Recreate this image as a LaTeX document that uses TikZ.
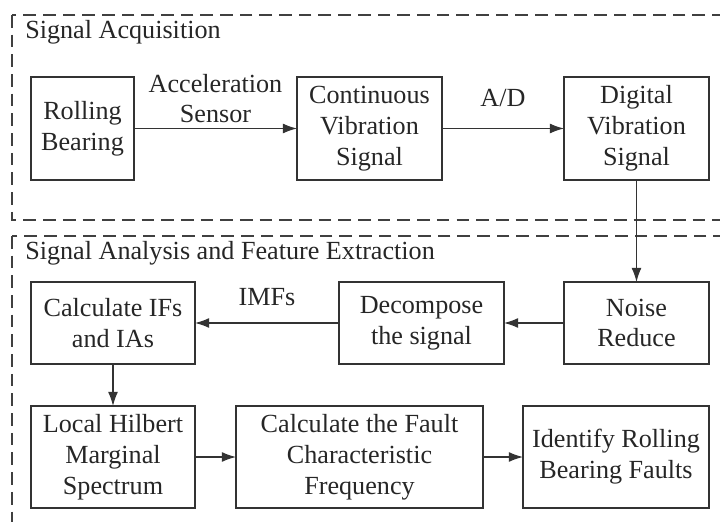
\documentclass[tikz,border=0pt]{standalone}
\usepackage{fontspec}
\setmainfont{Liberation Serif}
\usetikzlibrary{arrows.meta, positioning}

\begin{document}
\begin{tikzpicture}[font=\fontsize{18.6}{22}\selectfont,
    blk/.style={draw=black!80, line width=0.8pt, rectangle, align=center, inner sep=0pt, outer sep=0pt, text=black!85},
    flow/.style={draw=black!80, line width=0.8pt, -{Latex[length=10pt,width=7pt]}},
    region/.style={draw=black!75, line width=0.8pt, dash pattern=on 9pt off 5pt},
    lbl/.style={text=black!85, align=center}]
    \clip (0,0) rectangle (18,-13.05);
    % 两个虚线分区
    \draw[region] (0.3,-0.375) rectangle (18.6,-5.5);
    \draw[region] (0.3,-5.9) rectangle (18.6,-13.5);
    \node[lbl, anchor=base west, inner sep=0pt] (T1) at (0.625,-0.975) {Signal Acquisition};
    \node[lbl, anchor=base west, inner sep=0pt] (T2) at (0.625,-6.475) {Signal Analysis and Feature Extraction};
    % 第一行:信号采集
    \node[blk, minimum width=2.575cm, minimum height=2.575cm] (bearing) at (2.0625,-3.2125) {Rolling\\Bearing};
    \node[blk, minimum width=3.625cm, minimum height=2.575cm] (cont) at (9.2375,-3.2125) {Continuous\\Vibration\\Signal};
    \node[blk, minimum width=3.625cm, minimum height=2.575cm] (digital) at (15.9125,-3.2125) {Digital\\Vibration\\Signal};
    % 第二行
    \node[blk, minimum width=4.1cm, minimum height=2.05cm] (calcIF) at (2.825,-8.075) {Calculate IFs\\and IAs};
    \node[blk, minimum width=4.125cm, minimum height=2.05cm] (decomp) at (10.5375,-8.075) {Decompose\\the signal};
    \node[blk, minimum width=3.625cm, minimum height=2.05cm] (noise) at (15.9125,-8.075) {Noise\\Reduce};
    % 第三行
    \node[blk, minimum width=4.1cm, minimum height=2.55cm] (hilbert) at (2.825,-11.425) {Local Hilbert\\Marginal\\Spectrum};
    \node[blk, minimum width=6.175cm, minimum height=2.55cm] (fault) at (8.9875,-11.425) {Calculate the Fault\\Characteristic\\Frequency};
    \node[blk, minimum width=4.65cm, minimum height=2.55cm] (identify) at (15.4,-11.425) {Identify Rolling\\Bearing Faults};
    % 连线
    \draw[flow] (bearing) -- node[lbl, above] (accel) {Acceleration\\Sensor} (cont);
    \draw[flow] (cont) -- node[lbl, anchor=base, yshift=15.6pt] (ad) {A/D} (digital);
    \draw[flow] (digital) -- (noise);
    \draw[flow] (noise) -- (decomp);
    \draw[flow] (decomp) -- node[lbl, anchor=base, yshift=12.8pt] (imfs) {IMFs} (calcIF);
    \draw[flow] (calcIF) -- (hilbert);
    \draw[flow] (hilbert) -- (fault);
    \draw[flow] (fault) -- (identify);
\end{tikzpicture}
\end{document}
